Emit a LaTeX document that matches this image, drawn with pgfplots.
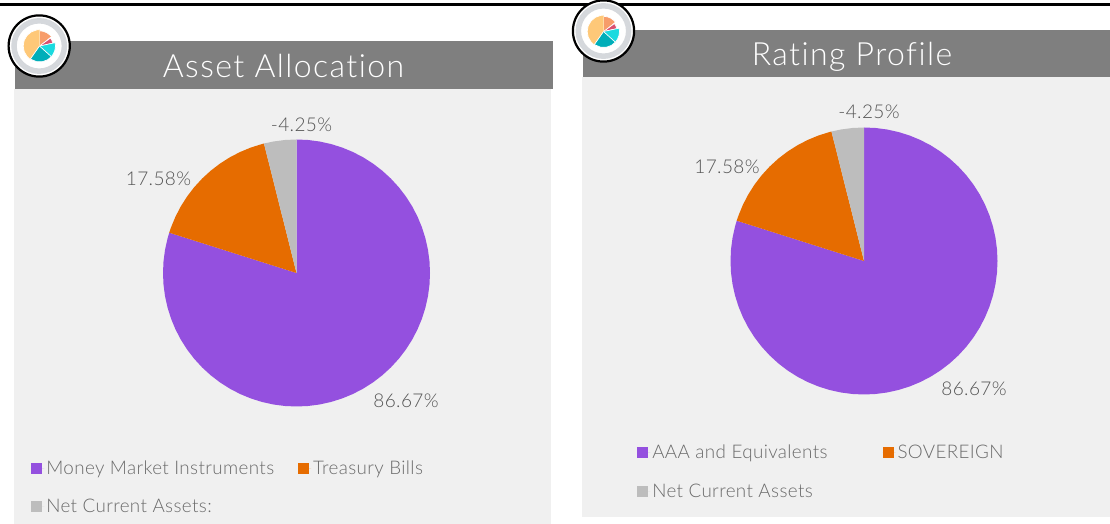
\documentclass[border=0pt]{standalone}
\usepackage{fontspec}
\usepackage{pgfplots}
\usepackage{pgfplotstable}
\pgfplotsset{compat=1.18}
\setmainfont{Lato Light}
\newfontfamily\titlef[LetterSpace=4.5,Ligatures=NoCommon]{Lato Light}
\newfontfamily\labelf[LetterSpace=2,Ligatures=NoCommon]{Lato Light}
\definecolor{cPurple}{HTML}{9450DF}
\definecolor{cOrange}{HTML}{E66C00}
\definecolor{cGrey}{HTML}{BDBDBD}
\definecolor{cHead}{HTML}{7F7F7F}
\definecolor{cBody}{HTML}{F0F0F0}
\definecolor{cLabel}{HTML}{555555}
\definecolor{cLegend}{HTML}{6A6A6A}
\definecolor{cRing}{HTML}{D5D8DC}
\definecolor{iPeach}{HTML}{F79C6A}
\definecolor{iPink}{HTML}{D94F70}
\definecolor{iCyan}{HTML}{1ADADF}
\definecolor{iTeal}{HTML}{00AEB9}
\definecolor{iYellow}{HTML}{FEC878}
% Angle (degrees) and radius of each slice outline; sizes 86.67, 17.58, 4.25 (absolute shares)
\pgfplotstableread{
a r
0 0
90 1
85 1
80 1
75 1
70 1
65 1
60 1
55 1
50 1
45 1
40 1
35 1
30 1
25 1
20 1
15 1
10 1
5 1
0 1
-5 1
-10 1
-15 1
-20 1
-25 1
-30 1
-35 1
-40 1
-45 1
-50 1
-55 1
-60 1
-65 1
-70 1
-75 1
-80 1
-85 1
-90 1
-95 1
-100 1
-105 1
-110 1
-115 1
-120 1
-125 1
-130 1
-135 1
-140 1
-145 1
-150 1
-155 1
-160 1
-165 1
-170 1
-175 1
-180 1
-185 1
-190 1
-195 1
-197.57 1
}\slicePurple
\pgfplotstableread{
a r
0 0
162.43 1
160 1
155 1
150 1
145 1
140 1
135 1
130 1
125 1
120 1
115 1
110 1
105 1
104.10 1
}\sliceOrange
\pgfplotstableread{
a r
0 0
104.10 1
100 1
95 1
90 1
}\sliceGrey
% small icon pies
\pgfplotstableread{
a r
0 0
90 .95
75 .95
60 .95
45 .95
40 .95
}\iconA
\pgfplotstableread{
a r
0 0
36 .85
25 .85
14 .85
}\iconB
\pgfplotstableread{
a r
0 0
12 1
0 1
-15 1
-30 1
-42 1
}\iconC
\pgfplotstableread{
a r
0 0
-42 1
-60 1
-80 1
-100 1
-125 1
}\iconD
\pgfplotstableread{
a r
0 0
-125 1.02
-140 1.02
-160 1.02
-180 1.02
-200 1.02
-220 1.02
-240 1.02
-260 1.02
-270 1.02
}\iconE
\pgfplotsset{
  pieaxis/.style={scale only axis,width=267pt,height=267pt,xmin=-1,xmax=1,ymin=-1,ymax=1,
    hide axis,clip=false,anchor=center,
    legend columns=2,legend cell align=left,
    legend image code/.code={\path (0pt,0pt) -- (13pt,0pt);\fill[##1] (0pt,-5.5pt) rectangle (11pt,5.5pt);},
  },
  iconaxis/.style={scale only axis,width=32pt,height=32pt,xmin=-1,xmax=1,ymin=-1,ymax=1,
    hide axis,clip=false,anchor=center},
}
\newcommand{\legfont}{\fontsize{18.8}{20}\labelf\color{cLegend}}
\newcommand{\piedata}{%
  \addplot[fill=cPurple,draw=none,data cs=polar] table[x=a,y=r] {\slicePurple};
  \addplot[fill=cOrange,draw=none,data cs=polar] table[x=a,y=r] {\sliceOrange};
  \addplot[fill=cGrey,draw=none,data cs=polar] table[x=a,y=r] {\sliceGrey};
}
\newcommand{\icondata}{%
  \addplot[fill=iPeach,draw=white,line width=.7pt,data cs=polar] table[x=a,y=r] {\iconA};
  \addplot[fill=iPink,draw=white,line width=.7pt,data cs=polar] table[x=a,y=r] {\iconB};
  \addplot[fill=iCyan,draw=white,line width=.7pt,data cs=polar] table[x=a,y=r] {\iconC};
  \addplot[fill=iTeal,draw=white,line width=.7pt,data cs=polar] table[x=a,y=r] {\iconD};
  \addplot[fill=iYellow,draw=white,line width=.7pt,data cs=polar] table[x=a,y=r] {\iconE};
}
\begin{document}
\begin{tikzpicture}[x=1pt,y=1pt]
\useasboundingbox (0,0) rectangle (1110,524);
% panels (y measured from the bottom: 524 - pixel y)
\fill[cBody] (14,0) rectangle (551,435);
\fill[cHead] (15,435) rectangle (553,483);
\fill[cBody] (582,7) rectangle (1110,447);
\fill[cHead] (583,447) rectangle (1110,494);
\fill[black] (0,518) rectangle (1110,521);
% left pie
\begin{axis}[pieaxis,at={(296.5pt,251pt)},
  legend style={at={(-0.494,-0.195)},anchor=north west,draw=none,fill=none,inner sep=0pt,
    font=\legfont,row sep=19pt,
    /tikz/every even column/.append style={column sep=22pt}}]
\piedata
\addlegendentry{Money Market Instruments}
\addlegendentry{Treasury Bills}
\addlegendentry{Net Current Assets:}
\end{axis}
% right pie
\begin{axis}[pieaxis,at={(864pt,263pt)},
  legend style={at={(-0.35,-0.18)},anchor=north west,draw=none,fill=none,inner sep=0pt,
    font=\legfont,row sep=20pt,
    /tikz/every even column/.append style={column sep=53pt}}]
\piedata
\addlegendentry{AAA and Equivalents}
\addlegendentry{SOVEREIGN}
\addlegendentry{Net Current Assets}
\end{axis}
% titles
\node[anchor=base,white,font=\fontsize{32}{34}\titlef] at (283.5,446.5) {Asset Allocation};
\node[anchor=base,white,font=\fontsize{32}{34}\titlef] at (852,458) {Rating Profile};
% data labels
\begin{scope}[every node/.style={anchor=base,cLabel,font=\fontsize{19}{22}\labelf}]
\node at (301.5,392.5) {-4.25\%};
\node at (158.5,338) {17.58\%};
\node at (406,116.5) {86.67\%};
\node at (869,405) {-4.25\%};
\node at (727,350) {17.58\%};
\node at (974,128.5) {86.67\%};
\end{scope}
% icons
\foreach \cx/\cy in {39.2/478, 603.5/493}{
  \draw[black,line width=2.2pt,fill=white] (\cx,\cy) circle (30.6);
  \draw[cRing,line width=5.5pt] (\cx,\cy) circle (25.2);
}
\begin{axis}[iconaxis,at={(39.5pt,478pt)}]
\icondata
\end{axis}
\begin{axis}[iconaxis,at={(603.5pt,492.5pt)}]
\icondata
\end{axis}
\end{tikzpicture}
\end{document}
